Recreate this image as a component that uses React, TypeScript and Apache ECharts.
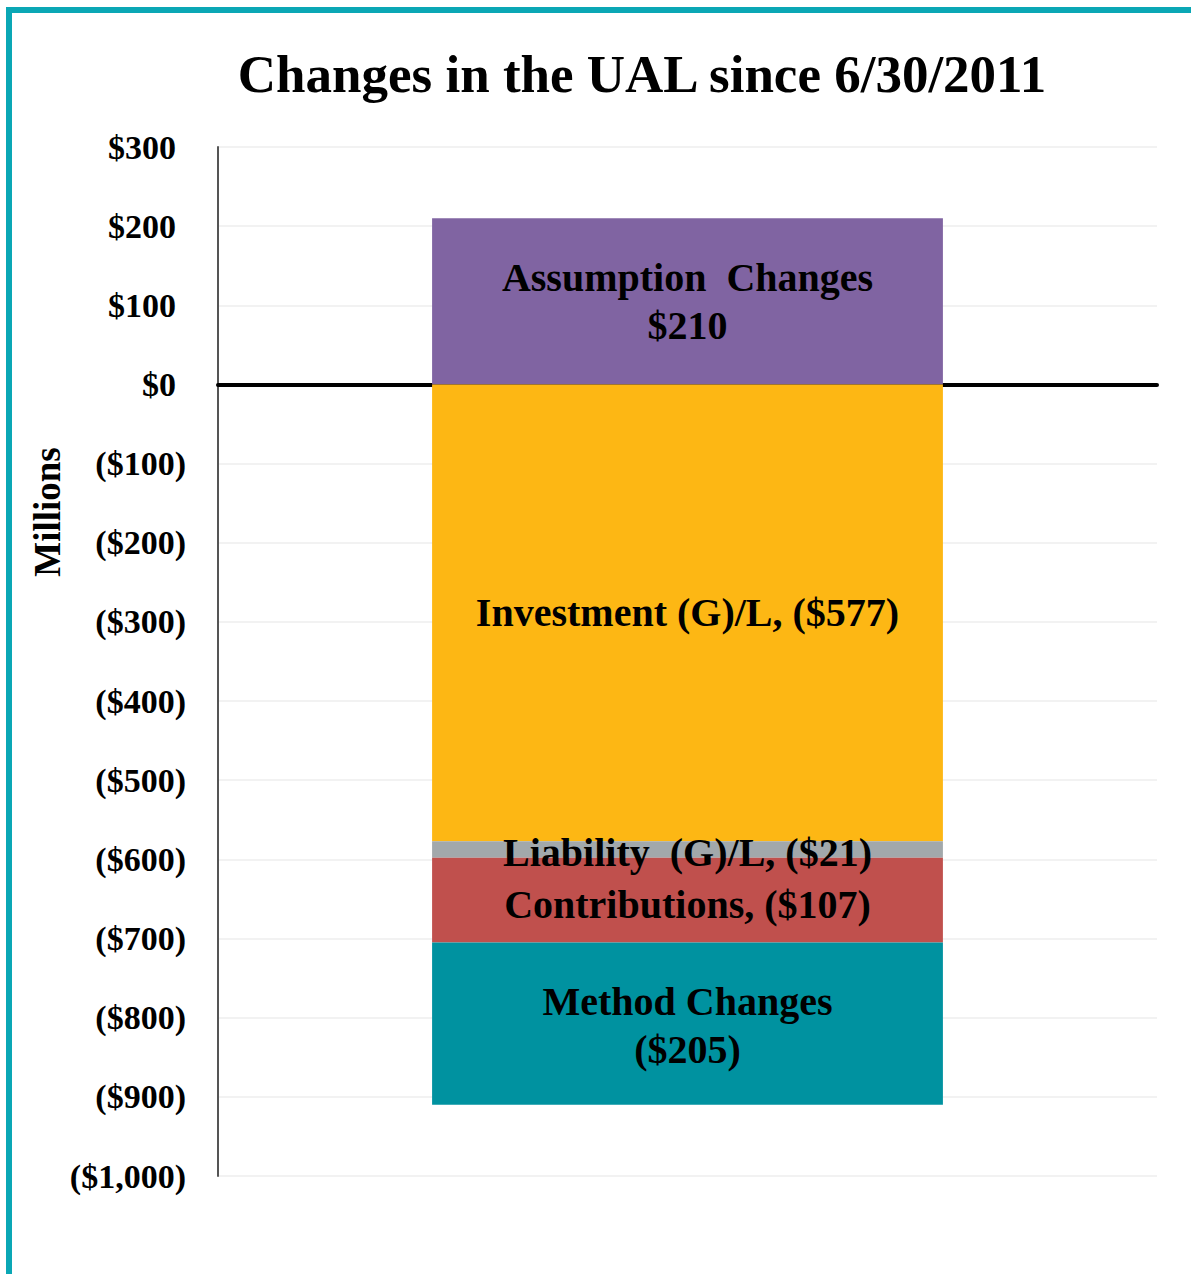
import React, { useEffect, useRef } from "react";
import * as echarts from "echarts";

const categories = ["UAL"];
const assumptionChanges = [210];
const investmentGL = [-577];
const liabilityGL = [-21];
const contributions = [-107];
const methodChanges = [-205];
const tickValues = { min: -1000, max: 300, interval: 100 };
const yAxisTitle = "Millions";

const SERIF = "'Liberation Serif', 'Times New Roman', serif";

function fmt(v: number): string {
  const a = Math.abs(v).toLocaleString("en-US");
  return v < 0 ? `($${a})` : `$${a}`;
}

export default function App() {
  const ref = useRef<HTMLDivElement>(null);
  useEffect(() => {
    if (!ref.current) return;
    const chart = echarts.init(ref.current, undefined, { renderer: "svg" });
    const labelBase = {
      show: true,
      position: "inside",
      color: "#000",
      fontFamily: SERIF,
      fontWeight: "bold",
      fontSize: 40,
      lineHeight: 48,
    };
    const axisFont = { fontFamily: SERIF, fontWeight: "bold", fontSize: 34, color: "#000" };
    chart.setOption({
      animation: false,
      backgroundColor: "#fff",
      title: {
        text: "Changes in the UAL since 6/30/2011",
        left: 637,
        top: 42,
        textAlign: "center",
        textStyle: { fontFamily: SERIF, fontWeight: "bold", fontSize: 53, color: "#000" },
      },
      graphic: [
        {
          type: "rect",
          shape: { x: 9, y: 10, width: 1200, height: 1300 },
          style: { fill: "none", stroke: "#0AA7B5", lineWidth: 6 },
          silent: true,
        },
        {
          type: "text",
          x: 47,
          y: 512,
          rotation: Math.PI / 2,
          silent: true,
          style: {
            text: yAxisTitle,
            fontFamily: SERIF,
            fontWeight: "bold",
            fontSize: 37,
            fill: "#000",
            align: "center",
            verticalAlign: "middle",
          },
        },
      ],
      grid: { left: 218, right: 34, top: 147, bottom: 98 },
      xAxis: {
        type: "category",
        data: categories,
        axisLine: { show: true, onZero: true, lineStyle: { color: "#000", width: 4 } },
        axisTick: { show: false },
        axisLabel: { show: false },
        splitLine: { show: false },
      },
      yAxis: {
        type: "value",
        min: tickValues.min,
        max: tickValues.max,
        interval: tickValues.interval,
        axisLine: { show: true, lineStyle: { color: "#555", width: 2 } },
        axisTick: { show: false },
        axisLabel: {
          formatter: (v: number) => (v < 0 ? `{n|${fmt(v)}}` : `{p|${fmt(v)}}`),
          ...axisFont,
          margin: 32,
          rich: {
            n: { ...axisFont },
            p: { ...axisFont, padding: [0, 10, 0, 0] },
          },
        },
        splitLine: { show: true, lineStyle: { color: "#eeeeee", width: 1.5 } },
      },
      series: [
        {
          name: "Assumption Changes",
          type: "bar",
          stack: "ual",
          barWidth: "54.4%",
          data: assumptionChanges,
          itemStyle: { color: "#8064A2" },
          label: { ...labelBase, formatter: (p: any) => `Assumption  Changes\n${fmt(p.value)}` },
        },
        {
          name: "Investment (G)/L",
          type: "bar",
          stack: "ual",
          data: investmentGL,
          itemStyle: { color: "#FDB714" },
          label: { ...labelBase, formatter: (p: any) => `Investment (G)/L, ${fmt(p.value)}` },
        },
        {
          name: "Liability (G)/L",
          type: "bar",
          stack: "ual",
          data: liabilityGL,
          itemStyle: { color: "#A2A8AB" },
          label: { ...labelBase, offset: [0, 3], formatter: (p: any) => `Liability  (G)/L, ${fmt(p.value)}` },
        },
        {
          name: "Contributions",
          type: "bar",
          stack: "ual",
          data: contributions,
          itemStyle: { color: "#C0504D" },
          label: { ...labelBase, offset: [0, 4], formatter: (p: any) => `Contributions, ${fmt(p.value)}` },
        },
        {
          name: "Method Changes",
          type: "bar",
          stack: "ual",
          data: methodChanges,
          itemStyle: { color: "#0092A0" },
          label: { ...labelBase, offset: [0, 2], formatter: (p: any) => `Method Changes\n${fmt(p.value)}` },
        },
      ],
    });
    return () => chart.dispose();
  }, []);
  return (
    <div
      ref={ref}
      style={{ position: "fixed", left: 0, top: 0, width: 1191, height: 1274, background: "#fff" }}
    />
  );
}
